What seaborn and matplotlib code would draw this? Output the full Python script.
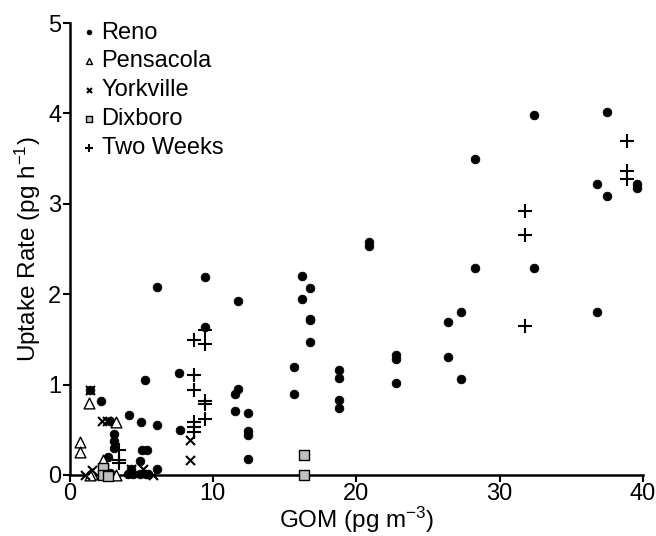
import pandas as pd
import matplotlib.pyplot as plt
import seaborn as sns

# GOM concentration (pg m-3) vs uptake rate (pg h-1)
reno_x = [37.5, 32.4, 28.3, 36.8, 37.5, 39.6, 39.6, 20.9, 20.9, 28.3, 32.4,
          36.8, 26.4, 27.3, 26.4, 27.3, 22.8, 22.8, 22.8, 18.8, 18.8, 18.8, 18.8,
          16.25, 16.8, 16.25, 16.8, 16.8, 16.8, 15.65, 15.65,
          11.76, 11.76, 11.53, 11.53, 12.42, 12.42, 12.42, 12.42,
          9.46, 9.46, 6.07, 7.65, 7.7, 5.26, 4.17, 4.96, 6.07, 2.17, 1.43, 2.82,
          3.1, 3.1, 3.1, 2.7, 2.82, 4.1, 4.45, 4.9, 5.3, 5.5, 4.26, 6.07, 4.91,
          5.03, 5.42]
reno_y = [4.02, 3.98, 3.50, 3.22, 3.09, 3.22, 3.18, 2.58, 2.53, 2.29, 2.29,
          1.80, 1.69, 1.80, 1.30, 1.06, 1.33, 1.28, 1.02, 1.16, 1.07, 0.83, 0.74,
          2.20, 2.07, 1.95, 1.73, 1.71, 1.47, 1.19, 0.89,
          1.92, 0.95, 0.89, 0.71, 0.69, 0.49, 0.44, 0.18,
          2.19, 1.64, 2.08, 1.13, 0.50, 1.05, 0.66, 0.59, 0.55, 0.82, 0.94, 0.60,
          0.45, 0.37, 0.30, 0.20, 0.02, 0.01, 0.01, 0.01, 0.01, 0.01, 0.07, 0.07, 0.15,
          0.28, 0.28]

pensacola_x = [0.73, 0.73, 1.38, 3.24, 2.36, 1.55, 3.24, 1.43]
pensacola_y = [0.36, 0.25, 0.80, 0.58, 0.16, 0.01, 0.0, 0.0]

yorkville_x = [1.43, 2.24, 2.6, 8.4, 8.4, 1.08, 1.55, 4.3, 5.1, 5.84]
yorkville_y = [0.94, 0.60, 0.60, 0.39, 0.17, 0.0, 0.05, 0.06, 0.06, 0.0]

dixboro_x = [2.36, 2.36, 2.7, 16.36, 16.36]
dixboro_y = [0.08, 0.0, -0.01, 0.22, 0.0]

twoweeks_x = [38.9, 38.9, 38.9, 31.8, 31.8, 31.8,
              9.46, 8.68, 9.46, 8.68, 8.68, 9.46, 9.46, 9.46, 8.68, 8.68, 8.68,
              3.45, 3.45, 3.45]
twoweeks_y = [3.70, 3.36, 3.27, 2.92, 2.65, 1.65,
              1.60, 1.49, 1.45, 1.11, 0.94, 0.82, 0.79, 0.62, 0.59, 0.53, 0.48,
              0.28, 0.17, 0.13]

sns.set_style('ticks')
plt.rcParams['font.family'] = ['Liberation Sans', 'DejaVu Sans']
plt.rcParams['mathtext.default'] = 'regular'
plt.rcParams.update({'text.color': 'black', 'axes.labelcolor': 'black',
                     'xtick.color': 'black', 'ytick.color': 'black',
                     'axes.edgecolor': 'black'})

fig = plt.figure(figsize=(6.56, 5.36), dpi=100)
ax = fig.add_axes([0.106, 0.114, 0.874, 0.843])

sns.scatterplot(x=reno_x, y=reno_y, ax=ax, marker='o', s=40, color='black',
                edgecolor='black', linewidth=0.5, label='Reno', clip_on=False, zorder=3)
sns.scatterplot(x=pensacola_x, y=pensacola_y, ax=ax, marker='^', s=60, facecolor='white',
                edgecolor='black', linewidth=1.0, label='Pensacola', clip_on=False, zorder=3)
sns.scatterplot(x=yorkville_x, y=yorkville_y, ax=ax, marker='x', s=42, color='black',
                linewidth=1.5, label='Yorkville', clip_on=False, zorder=3)
sns.scatterplot(x=dixboro_x, y=dixboro_y, ax=ax, marker='s', s=48, facecolor='#c0c0c0',
                edgecolor='black', linewidth=1.0, label='Dixboro', clip_on=False, zorder=4)
sns.scatterplot(x=twoweeks_x, y=twoweeks_y, ax=ax, marker='+', s=95, color='black',
                linewidth=1.5, label='Two Weeks', clip_on=False, zorder=3)

ax.set_xlim(0, 40)
ax.set_ylim(0, 5)
ax.set_xticks([0, 10, 20, 30, 40])
ax.set_yticks([0, 1, 2, 3, 4, 5])
ax.set_xlabel('GOM (pg m$^{-3}$)', fontsize=17.5, labelpad=0)
ax.set_ylabel('Uptake Rate (pg h$^{-1}$)', fontsize=17.5, labelpad=4)
ax.tick_params(axis='both', labelsize=17, direction='out', length=5, width=1.5, pad=1)
sns.despine(ax=ax)
for side in ['left', 'bottom']:
    ax.spines[side].set_linewidth(1.8)

ax.legend(loc='upper left', bbox_to_anchor=(-0.012, 1.04), frameon=False, fontsize=17,
          markerscale=0.55, handletextpad=0.15, labelspacing=0.29, borderaxespad=0.3,
          handlelength=0.8)

fig.savefig('out.png', dpi=100)
